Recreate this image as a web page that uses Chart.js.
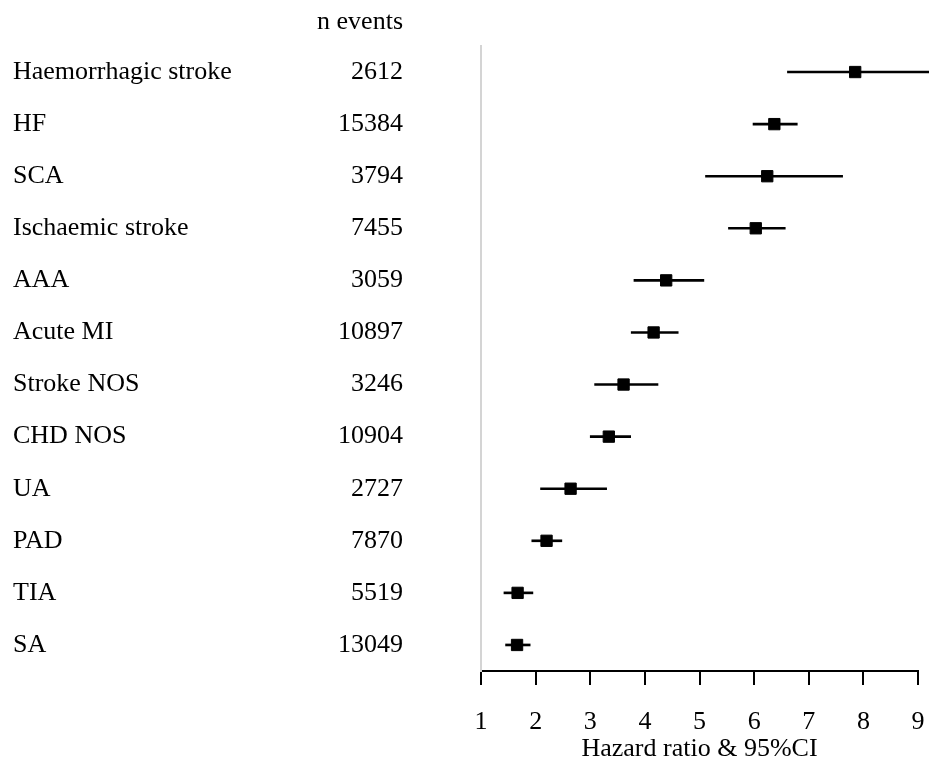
<!DOCTYPE html>
<html>
<head>
<meta charset="utf-8">
<script src="https://cdn.jsdelivr.net/npm/chart.js@4.4.0/dist/chart.umd.min.js"></script>
<style>
  html, body { margin: 0; padding: 0; background: #ffffff; }
  #wrap { position: relative; width: 929px; height: 770px; }
</style>
</head>
<body>
<div id="wrap"><canvas id="c" width="929" height="770"></canvas></div>
<script>
const categories = ["Haemorrhagic stroke", "HF", "SCA", "Ischaemic stroke", "AAA", "Acute MI", "Stroke NOS", "CHD NOS", "UA", "PAD", "TIA", "SA"];
const nEvents = ["2612", "15384", "3794", "7455", "3059", "10897", "3246", "10904", "2727", "7870", "5519", "13049"];
const hazardRatio = [7.85, 6.37, 6.24, 6.03, 4.39, 4.16, 3.61, 3.34, 2.64, 2.20, 1.67, 1.66];
const ciLower = [6.61, 5.98, 5.11, 5.53, 3.80, 3.75, 3.08, 3.00, 2.09, 1.93, 1.42, 1.45];
const ciUpper = [9.35, 6.79, 7.62, 6.57, 5.08, 4.61, 4.24, 3.74, 3.30, 2.48, 1.95, 1.90];
const xTicks = [1, 2, 3, 4, 5, 6, 7, 8, 9];
const headerText = "n events";
const xTitle = "Hazard ratio & 95%CI";

const FONT = '"Liberation Serif", "Times New Roman", serif';
const FS = 26;

function noPad(scale) {
  scale.paddingTop = 0; scale.paddingBottom = 0;
  scale.paddingLeft = 0; scale.paddingRight = 0;
}

const headerPlugin = {
  id: 'header',
  afterDraw(chart) {
    const s = chart.scales.yn;
    const ctx = chart.ctx;
    ctx.save();
    ctx.font = FS + 'px ' + FONT;
    ctx.fillStyle = '#000';
    ctx.textAlign = 'right';
    ctx.textBaseline = 'middle';
    ctx.fillText(headerText, s.right - s.options.ticks.padding, 22);
    ctx.restore();
  }
};

new Chart(document.getElementById('c'), {
  type: 'bar',
  data: {
    labels: categories,
    datasets: [
      {
        type: 'bar',
        indexAxis: 'y',
        data: categories.map((c, i) => [ciLower[i], ciUpper[i]]),
        backgroundColor: '#000',
        borderWidth: 0,
        barThickness: 2,
        xAxisID: 'x',
        yAxisID: 'y',
        clip: false,
        order: 2
      },
      {
        type: 'line',
        indexAxis: 'y',
        data: hazardRatio,
        showLine: false,
        pointStyle: 'rect',
        pointRadius: 8,
        pointBorderWidth: 1,
        pointBackgroundColor: '#000',
        pointBorderColor: '#000',
        xAxisID: 'x',
        yAxisID: 'y',
        clip: false,
        order: 1
      }
    ]
  },
  options: {
    indexAxis: 'y',
    responsive: false,
    animation: false,
    devicePixelRatio: 1,
    layout: { padding: { left: 13, right: 11, top: 46, bottom: 0 } },
    plugins: { legend: { display: false }, tooltip: { enabled: false }, title: { display: false } },
    scales: {
      x: {
        type: 'linear',
        position: 'bottom',
        min: 1,
        max: 9,
        afterBuildTicks(scale) { scale.ticks = xTicks.map(v => ({ value: v })); },
        afterFit(scale) { scale.height = 99; noPad(scale); },
        grid: { drawOnChartArea: false, drawTicks: true, tickLength: 14, color: '#000', lineWidth: 2 },
        border: { display: true, color: '#000', width: 2 },
        ticks: { color: '#000', font: { family: FONT, size: FS }, padding: 22, maxRotation: 0, autoSkip: false },
        title: { display: true, text: xTitle, color: '#000', font: { family: FONT, size: FS }, padding: { top: 0, bottom: 5 } }
      },
      y: {
        type: 'category',
        position: 'left',
        weight: 2,
        offset: true,
        afterFit(scale) { scale.width = 290; noPad(scale); },
        grid: { display: false, drawTicks: false },
        border: { display: false },
        ticks: { crossAlign: 'far', color: '#000', font: { family: FONT, size: FS }, padding: 0, autoSkip: false }
      },
      yn: {
        type: 'category',
        position: 'left',
        weight: 1,
        offset: true,
        labels: nEvents,
        afterFit(scale) { scale.width = 178; noPad(scale); },
        grid: { display: false, drawTicks: false },
        border: { display: true, color: '#d4d4d4', width: 2 },
        ticks: { crossAlign: 'near', color: '#000', font: { family: FONT, size: FS }, padding: 78, autoSkip: false }
      }
    }
  },
  plugins: [headerPlugin]
});
</script>
</body>
</html>
